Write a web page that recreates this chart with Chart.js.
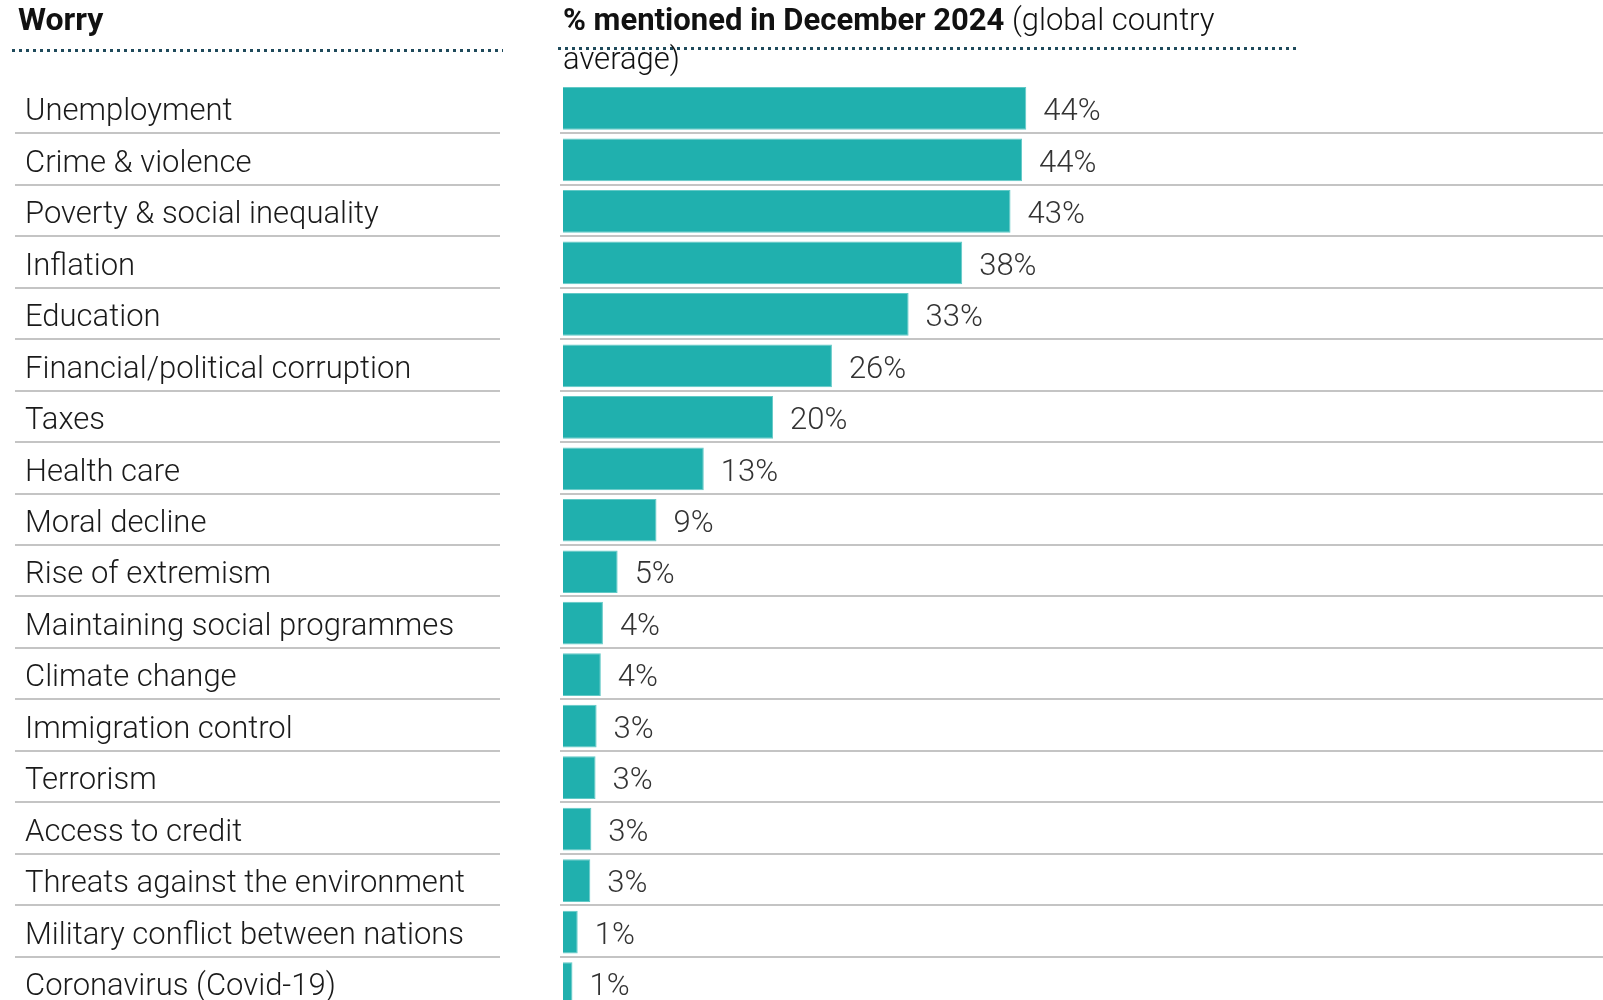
<!DOCTYPE html>
<html>
<head>
<meta charset="utf-8">
<title>Worries - December 2024</title>
<script src="https://cdn.jsdelivr.net/npm/chart.js@4.4.1/dist/chart.umd.min.js"></script>
<style>
    html, body {
        margin: 0;
        padding: 0;
        background: #fff;
        overflow: hidden;
    }
    #wrap {
        position: relative;
        width: 1603px;
        height: 1000px;
        overflow: hidden;
        font-family: Roboto, 'Noto Sans', sans-serif;
        color: #111;
    }
    #chart {
        position: absolute;
        left: 0;
        top: 0;
    }
    .head {
        position: absolute;
        font-size: 31px;
        line-height: 39px;
        white-space: nowrap;
        z-index: 2;
        font-weight: 300;
    }
    .head b { font-weight: 700; }
    .dots {
        position: absolute;
        height: 3px;
        background: repeating-linear-gradient(to right, #1f4a5b 0 3px, transparent 3px 7px);
        z-index: 1;
    }
</style>
</head>
<body>
<div id="wrap">
    <div class="head" style="left:18px; top:0px; font-size:32px;"><b>Worry</b></div>
    <div class="head" style="left:563px; top:0px;"><b>% mentioned in December 2024</b> (global country<br>average)</div>
    <div class="dots" style="left:12px; top:49px; width:491px;"></div>
    <div class="dots" style="left:558px; top:47px; width:740px;"></div>
    <canvas id="chart" width="1603" height="1031"></canvas>
</div>

<script>
// Data
const worries = [
    'Unemployment',
    'Crime & violence',
    'Poverty & social inequality',
    'Inflation',
    'Education',
    'Financial/political corruption',
    'Taxes',
    'Health care',
    'Moral decline',
    'Rise of extremism',
    'Maintaining social programmes',
    'Climate change',
    'Immigration control',
    'Terrorism',
    'Access to credit',
    'Threats against the environment',
    'Military conflict between nations',
    'Coronavirus (Covid-19)'
];
const mentioned = [44.1, 43.7, 42.6, 38.0, 32.9, 25.6, 20.0, 13.4, 8.9, 5.2, 3.8, 3.6, 3.2, 3.1, 2.7, 2.6, 1.4, 0.9];

const fontFamily = "Roboto, 'Noto Sans', sans-serif";

// row separators (left + right column) and value labels
const rowsPlugin = {
    id: 'rows',
    beforeDatasetsDraw(chart) {
        const ctx = chart.ctx;
        const y = chart.scales.y;
        const rowH = y.getPixelForValue(1) - y.getPixelForValue(0);
        ctx.save();
        ctx.strokeStyle = '#c4c4c4';
        ctx.lineWidth = 2;
        worries.forEach((w, i) => {
            const py = Math.round(y.getPixelForValue(i) + rowH / 2) - 1;
            ctx.beginPath();
            ctx.moveTo(15, py);
            ctx.lineTo(500, py);
            ctx.moveTo(560, py);
            ctx.lineTo(chart.width, py);
            ctx.stroke();
        });
        ctx.restore();
    },
    afterDatasetsDraw(chart) {
        const ctx = chart.ctx;
        const meta = chart.getDatasetMeta(0);
        ctx.save();
        ctx.font = `300 31px ${fontFamily}`;
        ctx.fillStyle = '#333';
        ctx.textAlign = 'left';
        ctx.textBaseline = 'middle';
        meta.data.forEach((bar, i) => {
            ctx.fillText(Math.round(mentioned[i]) + '%', bar.x + 17, bar.y + 4);
        });
        ctx.restore();
    }
};

const ctx = document.getElementById('chart').getContext('2d');
new Chart(ctx, {
    type: 'bar',
    data: {
        labels: worries,
        datasets: [{
            data: mentioned,
            backgroundColor: '#20b0ae',
            borderColor: '#62c9c6',
            borderWidth: 1,
            barPercentage: 0.83,
            categoryPercentage: 1
        }]
    },
    options: {
        indexAxis: 'y',
        responsive: false,
        animation: false,
        devicePixelRatio: 1,
        layout: { padding: { left: 25, top: 82.6, right: 0, bottom: 0 } },
        plugins: {
            legend: { display: false },
            tooltip: { enabled: false }
        },
        scales: {
            x: {
                display: false,
                min: 0,
                max: 99
            },
            y: {
                grid: { display: false },
                border: { display: false },
                ticks: {
                    autoSkip: false,
                    crossAlign: 'far',
                    labelOffset: 4,
                    color: '#1a1a1a',
                    font: { family: fontFamily, size: 31, weight: 300 }
                },
                afterFit(scale) {
                    scale.width = 538;
                }
            }
        }
    },
    plugins: [rowsPlugin]
});
</script>
</body>
</html>
